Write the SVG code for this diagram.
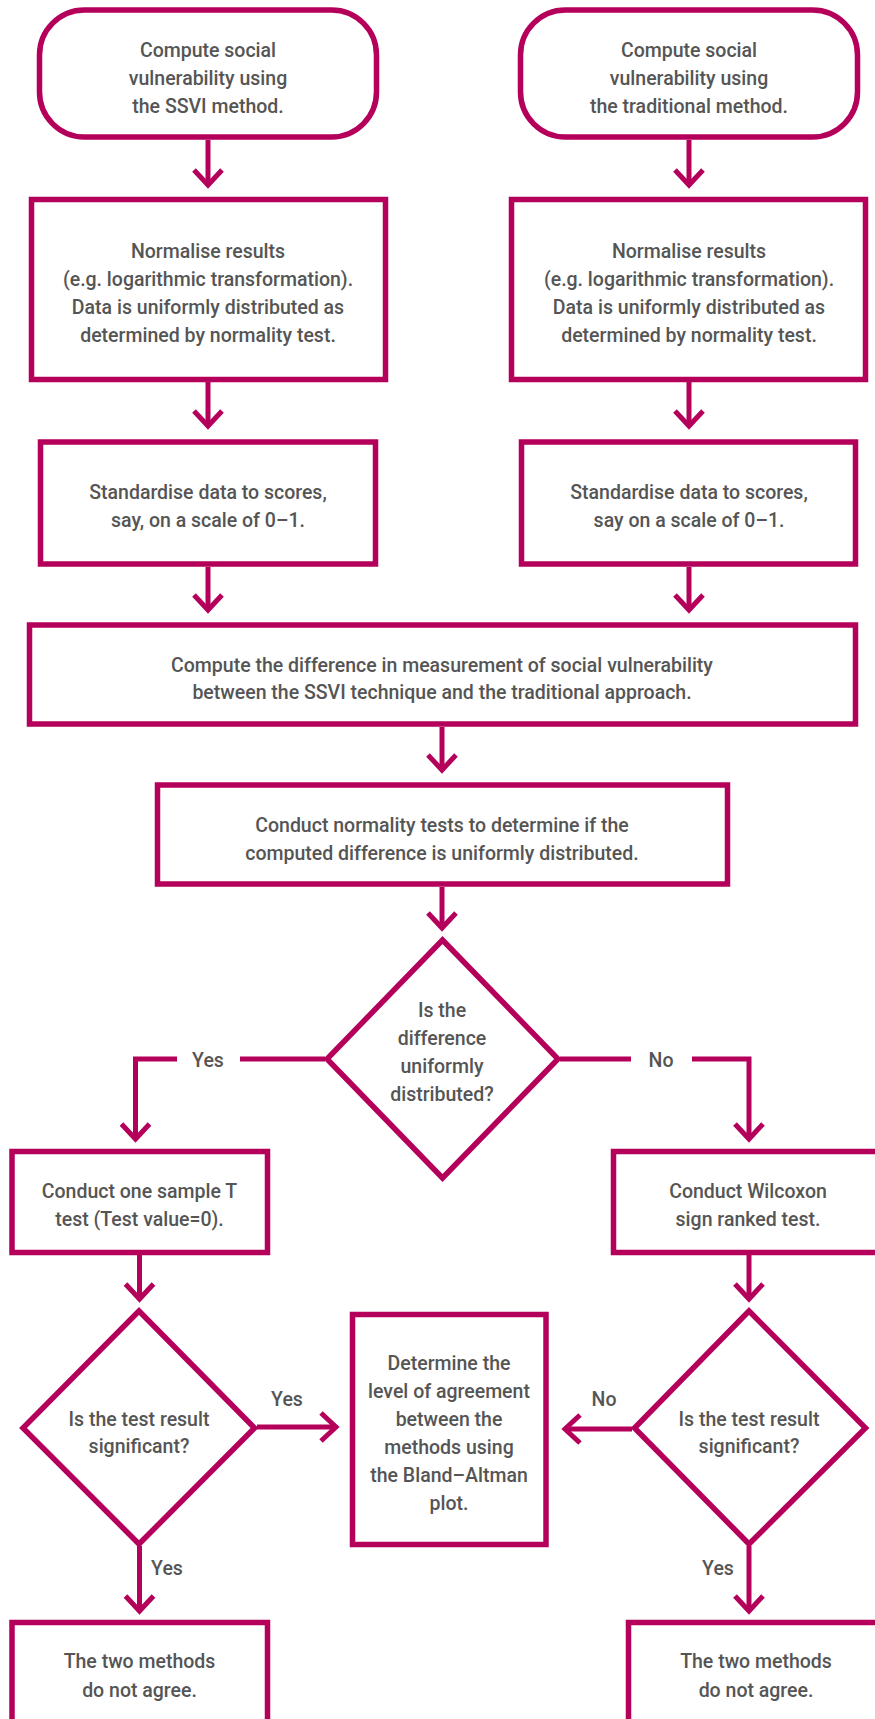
<svg xmlns="http://www.w3.org/2000/svg" width="875" height="1719" viewBox="0 0 875 1719">
<style>
.n{fill:#fff;stroke:#b5005b;stroke-width:5.5}
.c{fill:none;stroke:#b5005b;stroke-width:5}
text{font-family:Roboto,"Liberation Sans",sans-serif;font-weight:500;font-size:19.5px;fill:#555;text-anchor:middle}
</style>
<defs>
<marker id="ah" markerUnits="userSpaceOnUse" viewBox="-20 -20 24 40" refX="0" refY="0" markerWidth="24" markerHeight="40" orient="auto" overflow="visible">
<path d="M-15,-14 L0,0 L-15,14" fill="none" stroke="#b5005b" stroke-width="5"/>
</marker>
</defs>
<g id="connectors">
<path class="c" d="M208,140V185" marker-end="url(#ah)"/>
<path class="c" d="M689,140V185" marker-end="url(#ah)"/>
<path class="c" d="M208,382V426" marker-end="url(#ah)"/>
<path class="c" d="M689,382V426" marker-end="url(#ah)"/>
<path class="c" d="M208,567V610" marker-end="url(#ah)"/>
<path class="c" d="M689,567V610" marker-end="url(#ah)"/>
<path class="c" d="M442,727V770" marker-end="url(#ah)"/>
<path class="c" d="M442,887V928" marker-end="url(#ah)"/>
<path class="c" d="M325,1059H240"/>
<path class="c" d="M177,1059H135.5V1139" marker-end="url(#ah)"/>
<path class="c" d="M560,1059H631"/>
<path class="c" d="M692,1059H749V1139" marker-end="url(#ah)"/>
<path class="c" d="M139.5,1255V1299" marker-end="url(#ah)"/>
<path class="c" d="M749,1255V1299" marker-end="url(#ah)"/>
<path class="c" d="M257,1427H336" marker-end="url(#ah)"/>
<path class="c" d="M632,1429H565" marker-end="url(#ah)"/>
<path class="c" d="M139.5,1546V1611" marker-end="url(#ah)"/>
<path class="c" d="M749,1546V1611" marker-end="url(#ah)"/>
<text x="208" y="1067">Yes</text>
<text x="661" y="1067">No</text>
<text x="287" y="1406">Yes</text>
<text x="604" y="1406">No</text>
<text x="167" y="1575">Yes</text>
<text x="718" y="1575">Yes</text>
</g>
<g id="start-ssvi">
<rect class="n" x="39.5" y="10" width="337" height="127" rx="45"/>
<text x="208" y="57">Compute social</text>
<text x="208" y="85">vulnerability using</text>
<text x="208" y="113">the SSVI method.</text>
</g>
<g id="start-trad">
<rect class="n" x="520.5" y="10" width="337" height="127" rx="45"/>
<text x="689" y="57">Compute social</text>
<text x="689" y="85">vulnerability using</text>
<text x="689" y="113">the traditional method.</text>
</g>
<g id="normalise-ssvi">
<rect class="n" x="31.5" y="199.5" width="354" height="180"/>
<text x="208" y="258">Normalise results</text>
<text x="208" y="286">(e.g. logarithmic transformation).</text>
<text x="208" y="314">Data is uniformly distributed as</text>
<text x="208" y="342">determined by normality test.</text>
</g>
<g id="normalise-trad">
<rect class="n" x="511.5" y="199.5" width="354" height="180"/>
<text x="689" y="258">Normalise results</text>
<text x="689" y="286">(e.g. logarithmic transformation).</text>
<text x="689" y="314">Data is uniformly distributed as</text>
<text x="689" y="342">determined by normality test.</text>
</g>
<g id="standardise-ssvi">
<rect class="n" x="40.5" y="442" width="335" height="122"/>
<text x="208" y="499">Standardise data to scores,</text>
<text x="208" y="527">say, on a scale of 0–1.</text>
</g>
<g id="standardise-trad">
<rect class="n" x="521.5" y="442" width="334" height="122"/>
<text x="689" y="499">Standardise data to scores,</text>
<text x="689" y="527">say on a scale of 0–1.</text>
</g>
<g id="difference">
<rect class="n" x="29.5" y="625" width="826" height="99"/>
<text x="442" y="672">Compute the difference in measurement of social vulnerability</text>
<text x="442" y="699">between the SSVI technique and the traditional approach.</text>
</g>
<g id="normality">
<rect class="n" x="157.5" y="785" width="570" height="99"/>
<text x="442" y="832">Conduct normality tests to determine if the</text>
<text x="442" y="860">computed difference is uniformly distributed.</text>
</g>
<g id="decision-uniform">
<polygon class="n" points="442.5,940 558,1059 442.5,1178 327,1059"/>
<text x="442" y="1017">Is the</text>
<text x="442" y="1045">difference</text>
<text x="442" y="1073">uniformly</text>
<text x="442" y="1101">distributed?</text>
</g>
<g id="t-test">
<rect class="n" x="12" y="1151.5" width="255.5" height="101"/>
<text x="139.5" y="1198">Conduct one sample T</text>
<text x="139.5" y="1226">test (Test value=0).</text>
</g>
<g id="wilcoxon">
<rect class="n" x="613.5" y="1151.5" width="290" height="101"/>
<text x="748" y="1198">Conduct Wilcoxon</text>
<text x="748" y="1226">sign ranked test.</text>
</g>
<g id="decision-t">
<polygon class="n" points="139,1311 254.5,1428 139,1544 23,1428"/>
<text x="139" y="1426">Is the test result</text>
<text x="139" y="1453">significant?</text>
</g>
<g id="decision-w">
<polygon class="n" points="749,1311 865.5,1428 749,1544 634.5,1428"/>
<text x="749" y="1426">Is the test result</text>
<text x="749" y="1453">significant?</text>
</g>
<g id="bland-altman">
<rect class="n" x="352.5" y="1314.5" width="193.5" height="230"/>
<text x="449" y="1370">Determine the</text>
<text x="449" y="1398">level of agreement</text>
<text x="449" y="1426">between the</text>
<text x="449" y="1454">methods using</text>
<text x="449" y="1482">the Bland–Altman</text>
<text x="449" y="1510">plot.</text>
</g>
<g id="disagree-t">
<rect class="n" x="12" y="1622.5" width="255.5" height="120"/>
<text x="139.5" y="1668">The two methods</text>
<text x="139.5" y="1697">do not agree.</text>
</g>
<g id="disagree-w">
<rect class="n" x="628.5" y="1622.5" width="280" height="120"/>
<text x="756" y="1668">The two methods</text>
<text x="756" y="1697">do not agree.</text>
</g>
</svg>
